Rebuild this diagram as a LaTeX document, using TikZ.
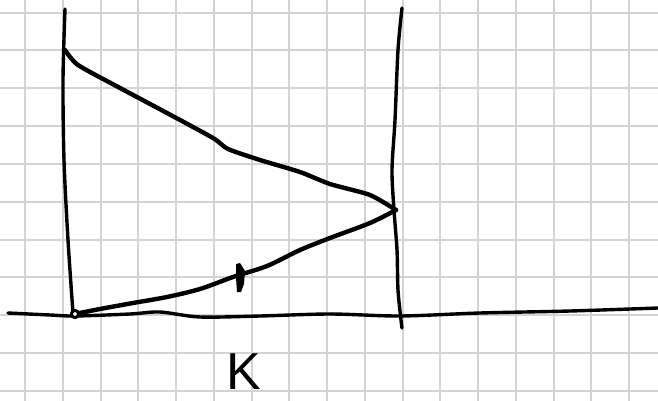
\documentclass[tikz,border=0pt]{standalone}
\usepackage{fontspec}
\setsansfont{Liberation Sans}
\usetikzlibrary{calc}
\definecolor{GridGray}{HTML}{D3D3D3}

\begin{document}
\begin{tikzpicture}[x=1pt,y=-1pt,
    gridline/.style={line width=2pt,color=GridGray},
    pen/.style={line width=4.4pt,line cap=round,line join=round,color=black},
    thinpen/.style={pen,line width=3.4pt}
  ]
    \useasboundingbox[fill=white] (0,0) rectangle (658,401);
    % squared paper
    \foreach \i in {0,...,16}
      \draw[gridline] (25+37.75*\i,0) -- (25+37.75*\i,401);
    \foreach \j in {0,...,10}
      \draw[gridline] (0,12.7+37.8*\j) -- (658,12.7+37.8*\j);
    % named points of the sketch
    \coordinate (origin) at (75,314);
    \coordinate (apex) at (396,210);
    \coordinate (top) at (65,50);
    % axes
    \draw[thinpen] plot[smooth] coordinates {(8,313) (50,315) (75,316) (130,314)
      (160,312) (200,317) (260,316) (330,314) (400,316) (480,313) (570,311) (658,308)};
    \draw[thinpen] plot[smooth] coordinates {(65,9) (63,80) (64,160) (68,240) (73,313)};
    \draw[thinpen] plot[smooth] coordinates {(402,8) (398,50) (395,120) (392,170)
      (394,210) (397,250) (398,290) (401,320) (402,328)};
    % triangle
    \draw[pen] plot[smooth,tension=0.4] coordinates {(top) (78,65) (120,88) (167,113)
      (213,138) (228,149) (260,160) (300,172) (330,184) (370,195) (apex)};
    \draw[pen] plot[smooth,tension=0.5] coordinates {(origin) (100,309) (133,303)
      (167,297) (200,289) (233,277) (267,266) (300,250) (330,238) (370,223) (apex)};
    \draw[pen,line width=3pt,fill=white] (origin) circle (3.6);
    % tick on the lower side
    \fill (236,264) -- (240,263) -- (245,271) -- (244,284) -- (241,292)
      -- (237,292) -- (236,278) -- cycle;
    % label
    \node[font=\sffamily\fontsize{52}{52}\selectfont,inner sep=0pt] (klabel) at (244,372) {K};
  \end{tikzpicture}
\end{document}
